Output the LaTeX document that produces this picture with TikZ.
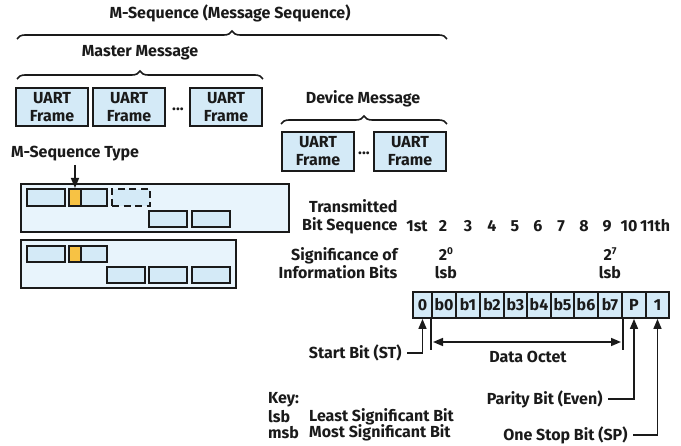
\documentclass[tikz,border=0pt]{standalone}
\usepackage{fontspec}
\setmainfont{Fira Sans}
\usepackage{tikz}
\usetikzlibrary{arrows.meta,decorations.pathreplacing}
\definecolor{framefill}{HTML}{D4EAF7}
\definecolor{seqfill}{HTML}{E8F4FC}
\definecolor{typefill}{HTML}{F7C244}
\definecolor{ink}{HTML}{1A1A1A}

\begin{document}
\begin{tikzpicture}
	[x=1pt,y=-1pt,every node/.style={font=\fontsize{16}{18}\selectfont\bfseries,text=ink},
	frame/.style={draw=ink,fill=framefill,line width=2.2pt,minimum width=72pt,minimum height=38pt,align=center,inner sep=0pt},
	seqbox/.style={draw=ink,fill=seqfill,line width=1.6pt},
	slot/.style={draw=ink,fill=framefill,line width=2pt,minimum height=16pt,minimum width=38pt,inner sep=0pt},
	cell/.style={draw=ink,fill=framefill,line width=1.8pt,minimum height=26pt,inner sep=0pt},
	brace/.style={decorate,decoration={brace,amplitude=8pt},line width=1.6pt,draw=ink},
	arr/.style={draw=ink,line width=1.6pt,-{Triangle[length=10pt,width=8pt]}}]
	\useasboundingbox (0,0) rectangle (681,446);

	\node (mseq) at (230,13) {M-Sequence (Message Sequence)};
	\draw[brace] (17,39) -- (447,39);
	\node (master) at (140,53) {Master Message};
	\draw[brace] (17,79) -- (263,79);
	\node (f1) at (52,107) [frame] {UART\\Frame};
	\node (f2) at (129,107) [frame] {UART\\Frame};
	\node (fdots) at (178,109) {...};
	\node (f3) at (226,107) [frame] {UART\\Frame};

	\node (device) at (363,99) {Device Message};
	\draw[brace] (281,124) -- (447,124);
	\node (d1) at (318,151.5) [frame,minimum height=39pt] {UART\\Frame};
	\node (ddots) at (364,153) {...};
	\node (d2) at (410,151.5) [frame,minimum height=39pt] {UART\\Frame};

	\node (mstype) at (75,154) {M-Sequence Type};
	\draw[seqbox] (21,184) rectangle (289,232);
	\node (a1) at (46,197.5) [slot,minimum height=17pt] {};
	\node (t1) at (75,197.5) [slot,minimum height=17pt,minimum width=12pt,fill=typefill] {};
	\node (b1) at (94,197.5) [slot,minimum height=17pt,minimum width=26pt] {};
	\node (e1) at (131,197.5) [slot,minimum height=17pt,dash pattern=on 7pt off 4.5pt] {};
	\node (a2) at (168,219) [slot] {};
	\node (b2) at (211,219) [slot] {};
	\draw[arr] (mstype.south) -- (t1.north);

	\draw[seqbox] (21,240) rectangle (236,288);
	\node (a3) at (46,254) [slot] {};
	\node (t3) at (75,254) [slot,minimum width=12pt,fill=typefill] {};
	\node (b3) at (94,254) [slot,minimum width=26pt] {};
	\node (a4) at (126,275) [slot] {};
	\node (b4) at (168,275) [slot] {};
	\node (c4) at (211,275) [slot] {};

	\node (trans) at (401,217) [anchor=east,align=right] {Transmitted\\Bit Sequence};
	\foreach \x/\n in {417/1st,443/2,468/3,492/4,515/5,538/6,561/7,584/8,607/9,629/10,655/11th}
	\node at (\x,226) {\n};
	\node (signif) at (401,263.5) [anchor=east,align=right] {Significance of\\Information Bits};
	\node (low) at (446,263.5) [align=center] {2\raisebox{0.7ex}{\fontsize{10}{10}\selectfont 0}\\lsb};
	\node (high) at (610,263.5) [align=center] {2\raisebox{0.7ex}{\fontsize{10}{10}\selectfont 7}\\lsb};

	\foreach \name/\x/\w/\t in {c0/422.5/19/0,c1/444/24/b0,c2/468/24/b1,c3/492/24/b2,c4/515.5/23/b3,c5/539/24/b4,c6/562.5/23/b5,c7/586/24/b6,c8/610/24/b7,c9/634/24/P,c10/657.5/23/1}
	\node (\name) at (\x,305) [cell,minimum width=\w pt] {\t};

	\node (start) at (405,353) [anchor=east] {Start Bit (ST)};
	\draw[arr] ([xshift=2pt]start.east) -| (c0.south);
	\draw[line width=1.6pt,draw=ink] (c1.south west) -- ++(0,31);
	\draw[line width=1.6pt,draw=ink] (c8.south east) -- ++(0,31);
	\draw[line width=1.6pt,draw=ink,{Triangle[length=10pt,width=8pt]}-{Triangle[length=10pt,width=8pt]}] (433,342) -- (621,342);
	\node (octet) at (528,357) {Data Octet};
	\node (parity) at (606,399) [anchor=east] {Parity Bit (Even)};
	\draw[arr] ([xshift=2pt]parity.east) -| (c9.south);
	\node (stop) at (631,435) [anchor=east] {One Stop Bit (SP)};
	\draw[arr] ([xshift=2pt]stop.east) -| (c10.south);

	\node (key) at (268,400) [anchor=west,inner sep=0pt] {Key:};
	\node (lsb) at (268,417) [anchor=west,inner sep=0pt] {lsb};
	\node (msb) at (268,433) [anchor=west,inner sep=0pt] {msb};
	\node (lsbtext) at (309,417) [anchor=west,inner sep=0pt] {Least Significant Bit};
	\node (msbtext) at (309,433) [anchor=west,inner sep=0pt] {Most Significant Bit};
\end{tikzpicture}
\end{document}
